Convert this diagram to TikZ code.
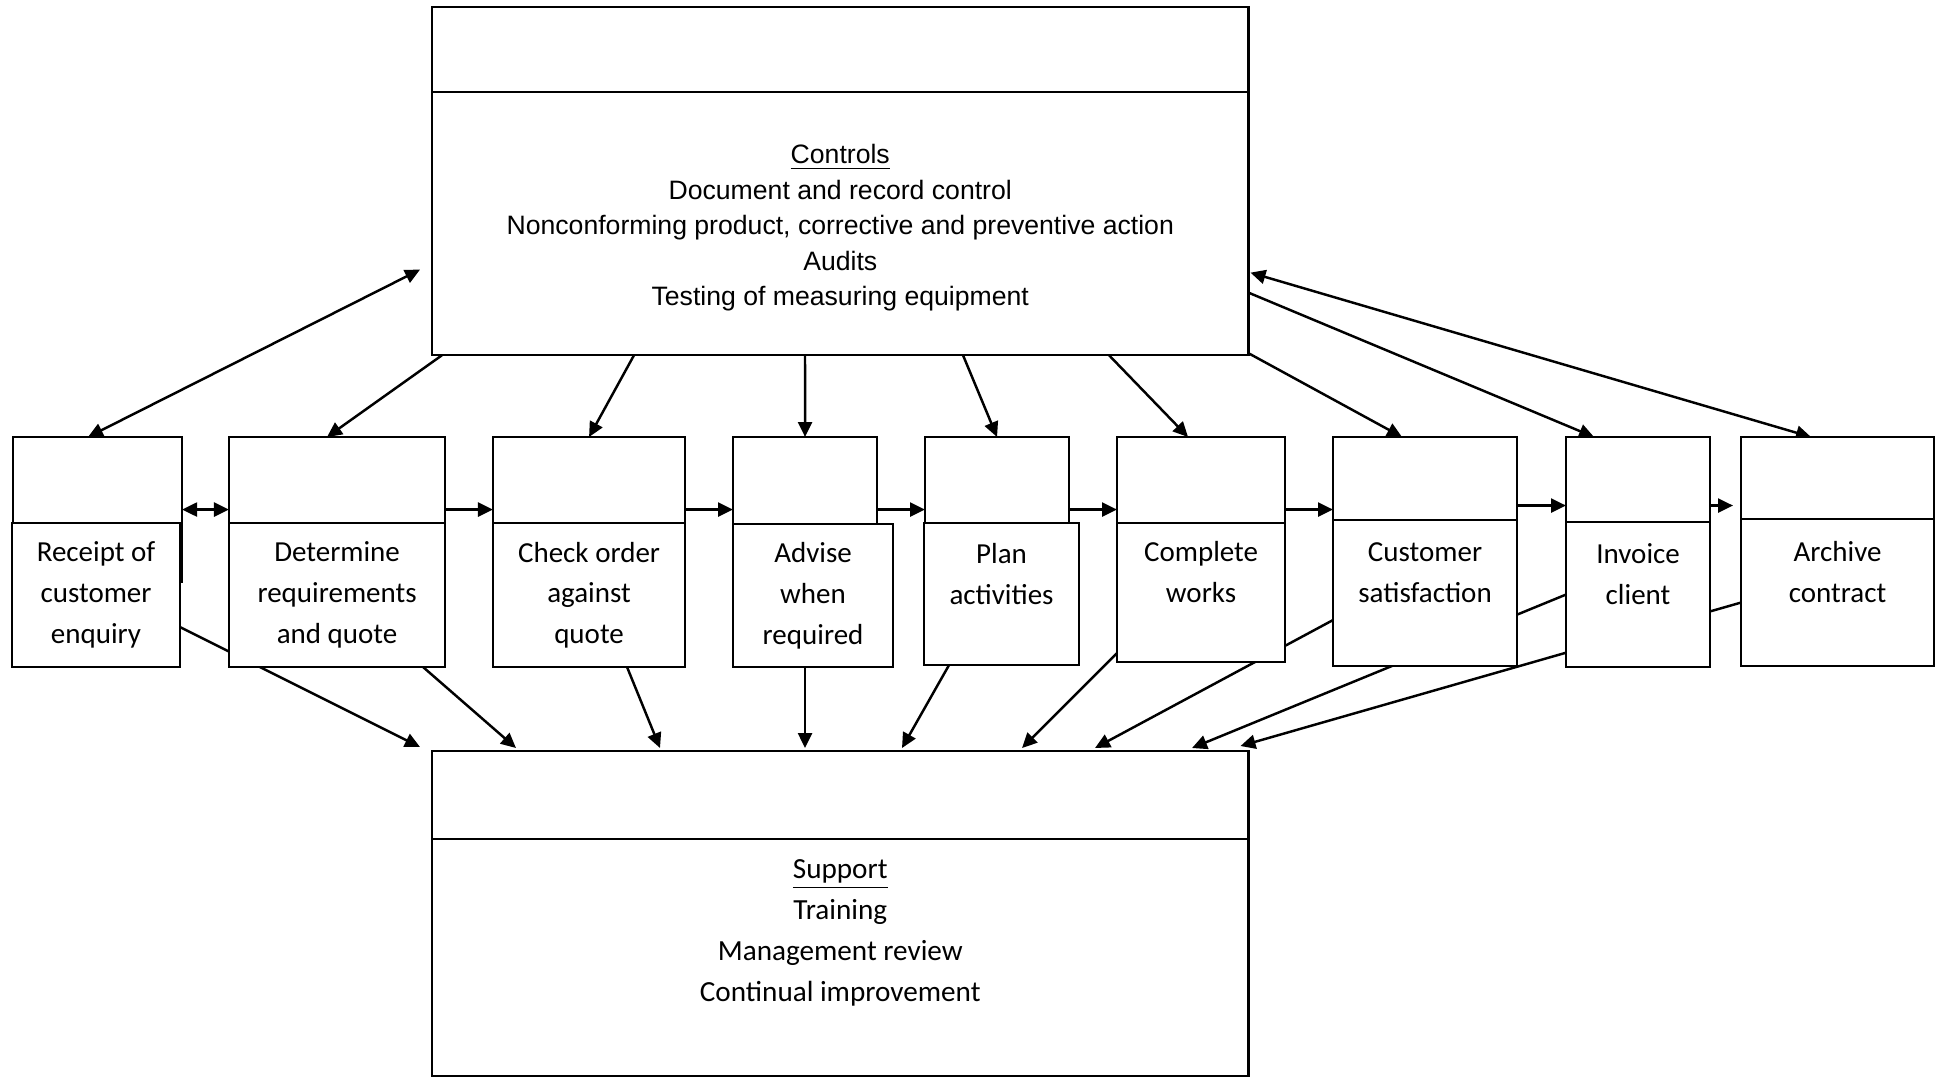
\documentclass[tikz,border=0pt]{standalone}
\usepackage{fontspec}
\newfontfamily\boxfont{Carlito}
\newfontfamily\ctrlfont{Liberation Sans}
\usepackage{tikz}
\usetikzlibrary{arrows.meta,positioning,calc,backgrounds}

\begin{document}
\begin{tikzpicture}[
  x=0.01cm, y=-0.01cm,
  hd/.style={draw=black, line width=0.6pt, fill=white, inner sep=0pt, outer sep=0pt, anchor=north west, minimum height=1.45cm},
  task/.style={draw=black, line width=0.6pt, fill=white, inner sep=0pt, outer sep=0pt, anchor=north west, align=center, font=\boxfont\fontsize{8.25pt}{11.6pt}\selectfont},
  big/.style={draw=black, line width=0.6pt, fill=white, inner sep=0pt, outer sep=0pt, minimum width=8.16cm, align=center},
  arr/.style={-{Triangle[length=1.5mm, width=1.4mm]}, line width=0.7pt},
  darr/.style={{Triangle[length=1.5mm, width=1.4mm]}-{Triangle[length=1.5mm, width=1.4mm]}, line width=0.7pt}
]
\useasboundingbox (0,0) rectangle (1940,1078);

% controls
\node[big, anchor=north west, minimum height=0.85cm] (ctrlhd) at (432,7) {};
\node[big, below=0pt of ctrlhd, minimum height=2.63cm] (ctrl) {};
\node[font=\ctrlfont\fontsize{7.57pt}{10.1pt}\selectfont, align=center] (ctrllist) at ($(ctrl.center)+(0,4)$) {\underline{Controls}\\Document and record control\\Nonconforming product, corrective and preventive action\\Audits\\Testing of measuring equipment};

% process steps
\node[hd, minimum width=1.69cm] (rcpthd) at (13,437) {};
\node[task, minimum width=1.68cm, minimum height=1.44cm] (rcpt) at (12,523) {Receipt of\\customer\\enquiry};
\node[hd, minimum width=2.16cm] (dethd) at (229,437) {};
\node[task, minimum width=2.16cm, minimum height=1.44cm] (det) at (229,523) {Determine\\requirements\\and quote};
\node[hd, minimum width=1.92cm] (chkhd) at (493,437) {};
\node[task, minimum width=1.92cm, minimum height=1.44cm] (chk) at (493,523) {Check order\\against\\quote};
\node[hd, minimum width=1.44cm] (advhd) at (733,437) {};
\node[task, minimum width=1.60cm, minimum height=1.43cm] (adv) at (733,524) {Advise\\when\\required};
\node[hd, minimum width=1.44cm] (planhd) at (925,437) {};
\node[task, minimum width=1.55cm, minimum height=1.42cm] (plan) at (924,523) {Plan\\activities\\\mbox{}};
\node[hd, minimum width=1.68cm] (comphd) at (1117,437) {};
\node[task, minimum width=1.68cm, minimum height=1.39cm] (comp) at (1117,523) {Complete\\works\\\mbox{}};
\node[hd, minimum width=1.84cm] (custhd) at (1333,437) {};
\node[task, minimum width=1.84cm, minimum height=1.46cm] (cust) at (1333,520) {Customer\\satisfaction\\\mbox{}};
\node[hd, minimum width=1.44cm] (invhd) at (1566,437) {};
\node[task, minimum width=1.44cm, minimum height=1.45cm] (inv) at (1566,522) {Invoice\\client\\\mbox{}};
\node[hd, minimum width=1.93cm] (archd) at (1741,437) {};
\node[task, minimum width=1.93cm, minimum height=1.47cm] (arc) at (1741,519) {Archive\\contract\\\mbox{}};

% support
\node[big, anchor=north west, minimum height=0.88cm] (suphd) at (432,751) {};
\node[big, below=0pt of suphd, minimum height=2.37cm] (sup) {};
\node[font=\boxfont\fontsize{8.3pt}{11.7pt}\selectfont, align=center] (suplist) at ($(sup.center)+(0,-25)$) {\underline{Support}\\Training\\Management review\\Continual improvement};

\begin{scope}[on background layer]
% controls to steps
\draw[darr] ($(rcpthd.north west)+(75,0)$) -- ($(ctrl.west)+(-12,46)$);
\draw[arr] ($(ctrl.south west)+(10,0)$) -- ($(dethd.north west)+(98,0)$);
\draw[arr] ($(ctrl.south west)+(202,0)$) -- (chkhd.north);
\draw[arr] ($(ctrl.south west)+(373,0)$) -- (advhd.north);
\draw[arr] ($(ctrl.south west)+(531,0)$) -- (planhd.north);
\draw[arr] ($(ctrl.south west)+(677,0)$) -- ($(comphd.north)+(-13,0)$);
\draw[arr] ($(ctrl.south east)+(0,-2)$) -- ($(custhd.north west)+(69,0)$);
\draw[arr] ($(ctrl.east)+(0,69)$) -- ($(invhd.north west)+(28,0)$);
\draw[darr] ($(ctrl.east)+(2,49)$) -- ($(archd.north west)+(70,0)$);

% step to step
\draw[darr] (rcpthd) -- (dethd);
\draw[arr] (dethd) -- (chkhd);
\draw[arr] (chkhd) -- (advhd);
\draw[arr] (advhd) -- (planhd);
\draw[arr] (planhd) -- (comphd);
\draw[arr] (comphd) -- (custhd);
\draw[arr] ($(custhd.east)+(0,-4)$) -- ($(invhd.west)+(0,-4)$);
\draw[arr] ($(invhd.east)+(0,-4)$) -- ($(archd.west)+(-8,-4)$);

% steps to support
\draw[arr] ($(rcpt.east)+(0,32)$) -- ($(suphd.north west)+(-12,-4)$);
\draw[arr] ($(det.south east)+(-22,0)$) -- ($(suphd.north west)+(84,-3)$);
\draw[arr] ($(chk.south)+(38,0)$) -- ($(suphd.north west)+(228,-3)$);
\draw[arr] ($(adv.south west)+(72,0)$) -- ($(suphd.north west)+(373,-3)$);
\draw[arr] ($(plan.south west)+(25,0)$) -- ($(suphd.north west)+(470,-3)$);
\draw[arr] ($(comp.south west)+(0,-9)$) -- ($(suphd.north west)+(590,-3)$);
\draw[arr] ($(cust.west)+(0,27)$) -- ($(suphd.north west)+(663,-3)$);
\draw[arr] (inv.west) -- ($(suphd.north west)+(760,-3)$);
\draw[arr] ($(arc.west)+(0,10)$) -- ($(suphd.north east)+(-8,-5)$);
\end{scope}
\end{tikzpicture}
\end{document}
